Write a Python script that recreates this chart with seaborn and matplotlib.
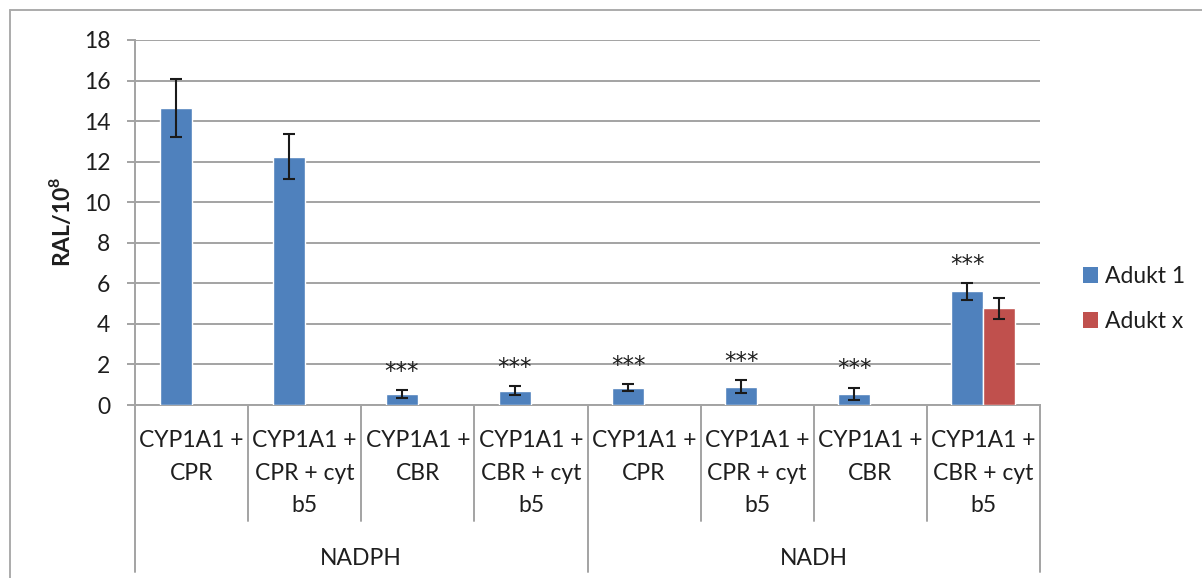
import matplotlib
matplotlib.use("Agg")
import matplotlib.pyplot as plt
import seaborn as sns
import pandas as pd
from matplotlib.lines import Line2D
from matplotlib.patches import Patch
from matplotlib.transforms import blended_transform_factory

# ---- data -------------------------------------------------------------
groups = ["NADPH", "NADH"]
conditions = [
    "CYP1A1 +\nCPR",
    "CYP1A1 +\nCPR + cyt\nb5",
    "CYP1A1 +\nCBR",
    "CYP1A1 +\nCBR + cyt\nb5",
]
series_names = ["Adukt 1", "Adukt x"]

adukt1_values = [14.65, 12.25, 0.53, 0.70, 0.86, 0.91, 0.55, 5.60]
adukt1_errors = [1.43, 1.10, 0.20, 0.22, 0.17, 0.31, 0.30, 0.41]

aduktx_category = 7
aduktx_values = [4.78]
aduktx_errors = [0.52]

significance = ["", "", "***", "***", "***", "***", "***", "***"]

y_ticks = [0, 2, 4, 6, 8, 10, 12, 14, 16, 18]

# ---- styling ----------------------------------------------------------
BLUE = "#4F81BD"
RED = "#C0504D"
GRID = "#A3A3A3"
TEXT = "#1E1E1E"
FONT = "Lato"
FS = 16.5

sns.set_theme(style="white")
plt.rcParams["font.family"] = [FONT, "DejaVu Sans"]
plt.rcParams["mathtext.fontset"] = "custom"
plt.rcParams["mathtext.rm"] = FONT
plt.rcParams["mathtext.bf"] = FONT + ":bold"

# ---- tidy frame -------------------------------------------------------
keys = [f"{g}|{c}" for g in groups for c in conditions]
rows = []
for k, v, e in zip(keys, adukt1_values, adukt1_errors):
    rows.append({"key": k, "series": series_names[0], "value": v, "err": e})
for v, e in zip(aduktx_values, aduktx_errors):
    rows.append({"key": keys[aduktx_category], "series": series_names[1],
                 "value": v, "err": e})
df = pd.DataFrame(rows)

# ---- figure -----------------------------------------------------------
W, H = 1202, 578
fig = plt.figure(figsize=(W / 100, H / 100), dpi=100)
fig.patch.set_facecolor("white")

ax_left, ax_right, ax_top, ax_bottom = 135, 1040, 40, 405
ax = fig.add_axes([ax_left / W, 1 - ax_bottom / H,
                   (ax_right - ax_left) / W, (ax_bottom - ax_top) / H])

sns.barplot(data=df, x="key", y="value", hue="series", order=keys,
            hue_order=series_names, palette=[BLUE, RED], width=0.566,
            saturation=1, errorbar=None, legend=False, ax=ax, zorder=3)

# error bars at the centres of the bars seaborn drew
err_lookup = {(r.series, keys.index(r.key)): (r.value, r.err) for r in df.itertuples()}
for name, container in zip(series_names, ax.containers):
    for bar in container:
        xc = bar.get_x() + bar.get_width() / 2
        idx = int(round(xc))
        val, err = err_lookup[(name, idx)]
        ax.errorbar(xc, val, yerr=err, fmt="none", ecolor="#1A1A1A",
                    elinewidth=1.5, capsize=4.3, capthick=1.5, zorder=4)
        if name == series_names[0] and significance[idx]:
            ax.annotate(significance[idx], xy=(xc, val + err),
                        xytext=(0, 9), textcoords="offset points",
                        ha="center", va="baseline", fontsize=FS,
                        family=["DejaVu Sans"], color=TEXT)

# axes appearance
ax.set_ylim(0, 18)
ax.set_xlim(-0.5, len(keys) - 0.5)
ax.set_yticks(y_ticks)
ax.set_yticklabels([str(t) for t in y_ticks], fontsize=FS, color=TEXT)
ax.tick_params(axis="y", which="major", left=True, length=5.8, width=1.4,
               color=GRID, pad=12)
ax.set_xticks([])
ax.set_xlabel("")
ax.set_ylabel("")
ax.yaxis.grid(True, color=GRID, linewidth=1.4, zorder=0)
ax.set_axisbelow(True)
for side in ("top", "right"):
    ax.spines[side].set_visible(False)
for side in ("left", "bottom"):
    ax.spines[side].set_color(GRID)
    ax.spines[side].set_linewidth(1.4)

# two-level category axis
tr = blended_transform_factory(ax.transData, ax.transAxes)
axh = ax_bottom - ax_top


def ay(py):
    return (ax_bottom - py) / axh


line_baselines = [447, 479.5, 512]
for i, key in enumerate(keys):
    cond = key.split("|")[1]
    for j, line in enumerate(cond.split("\n")):
        ax.text(i, ay(line_baselines[j]), line, transform=tr, ha="center",
                va="baseline", fontsize=FS, color=TEXT, clip_on=False)

n_cond = len(conditions)
for i in range(len(keys) + 1):
    xb = i - 0.5
    outer = i % n_cond == 0
    y_end = ay(572) if outer else ay(521)
    ax.add_line(Line2D([xb, xb], [0, y_end], transform=tr, color=GRID,
                       linewidth=1.4, clip_on=False))

for g, name in enumerate(groups):
    xc = g * n_cond + (n_cond - 1) / 2
    ax.text(xc, ay(565), name, transform=tr, ha="center", va="baseline",
            fontsize=FS, color=TEXT, clip_on=False)

# y-axis title
fig.text(61 / W, 1 - 222 / H, r"RAL/10$^{\mathbf{8}}$", rotation=90,
         ha="center", va="center", fontsize=FS, fontweight="bold", color=TEXT)

# legend
handles = [Patch(facecolor=BLUE, edgecolor="none"),
           Patch(facecolor=RED, edgecolor="none")]
fig.legend(handles, series_names, loc="center left",
           bbox_to_anchor=(1083 / W, 1 - 299 / H), frameon=False,
           fontsize=FS, handlelength=0.65, handleheight=0.65,
           handletextpad=0.3, labelspacing=1.05, borderpad=0,
           borderaxespad=0, labelcolor=TEXT)

# chart-area border
bx, by = 10 / W, 1 - 10 / H
fig.add_artist(Line2D([bx, 1.0], [by, by], transform=fig.transFigure,
                      color="#ABABAB", linewidth=1.4))
fig.add_artist(Line2D([bx, bx], [0.0, by], transform=fig.transFigure,
                      color="#ABABAB", linewidth=1.4))

fig.savefig("out.png", dpi=100, facecolor="white")
